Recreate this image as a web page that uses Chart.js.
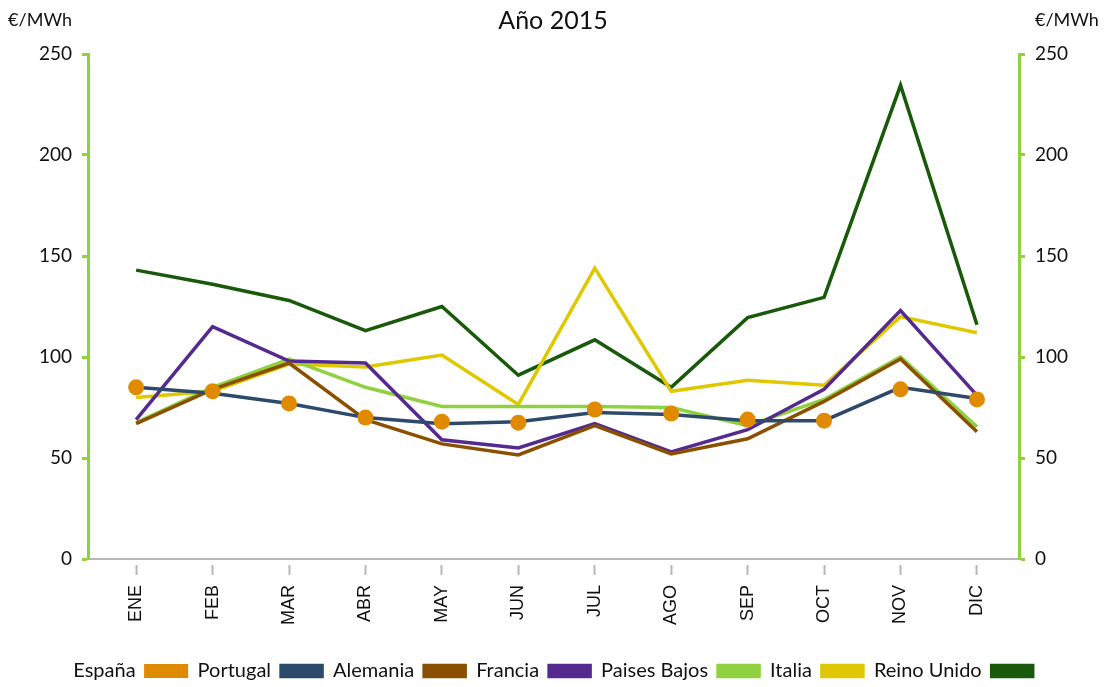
<!DOCTYPE html>
<html>
<head>
<meta charset="utf-8">
<title>Año 2015</title>
<script src="https://cdn.jsdelivr.net/npm/chart.js@4.4.1/dist/chart.umd.min.js"></script>
<style>
  html, body { margin: 0; padding: 0; background: #fff; }
  #wrap { width: 1106px; height: 687px; }
</style>
</head>
<body>
<div id="wrap"><canvas id="priceChart" width="1106" height="687"></canvas></div>
<script>
const months = ['ENE', 'FEB', 'MAR', 'ABR', 'MAY', 'JUN', 'JUL', 'AGO', 'SEP', 'OCT', 'NOV', 'DIC'];
const yTicks = [0, 50, 100, 150, 200, 250];
const unitText = '€/MWh';

const espana      = [85, 83, 77, 70, 68, 67.5, 74, 72, 69, 68.5, 84, 79];
const portugal    = [85, 82, 77, 70, 67, 68, 72.5, 71.5, 68.5, 68.5, 85, 79.5];
const alemania    = [67, 84, 97, 69, 57, 51.5, 66, 52, 59.5, 78, 99, 63];
const francia     = [69, 115, 98, 97, 59, 55, 67, 53, 64, 84, 123, 81];
const paisesBajos = [67.5, 85, 99, 85, 75.5, 75.5, 75.5, 75, 66, 79, 100, 65.5];
const italia      = [80, 83, 96.5, 95, 101, 76.5, 144, 83, 88.5, 86, 120, 112];
const reinoUnido  = [143, 136, 128, 113, 125, 91, 108.5, 85, 119.5, 129.5, 234.5, 116];

const axisGreen = '#8fd13f';

// month index -> {x, y} so the x axis can be a linear scale
function toPoints(values) {
  return values.map((v, i) => ({ x: i, y: v }));
}

function lineSet(label, values, color) {
  return {
    label: label,
    data: toPoints(values),
    borderColor: color,
    backgroundColor: color,
    borderWidth: 3.5,
    pointRadius: 0,
    pointHoverRadius: 0,
    pointBorderWidth: 0,
    tension: 0
  };
}

// draws the unit text above both value axes
const unitLabels = {
  id: 'unitLabels',
  afterDraw(chart) {
    const { ctx, scales } = chart;
    ctx.save();
    ctx.font = '18px Lato';
    ctx.fillStyle = '#111';
    ctx.textBaseline = 'middle';
    ctx.textAlign = 'right';
    ctx.fillText(unitText, scales.y.right - 16, 20);
    ctx.textAlign = 'left';
    ctx.fillText(unitText, scales.y2.left + 16, 20);
    ctx.restore();
  }
};

function valueAxis(position, width) {
  return {
    position: position,
    min: 0,
    max: 250,
    afterFit: (scale) => { scale.width = width; },
    afterBuildTicks: (scale) => { scale.ticks = yTicks.map(v => ({ value: v })); },
    border: { display: true, color: axisGreen, width: 3 },
    grid: {
      drawOnChartArea: false,
      drawTicks: true,
      tickLength: 6,
      tickWidth: 3,
      tickColor: axisGreen,
      color: axisGreen
    },
    ticks: {
      padding: 10,
      color: '#111',
      font: { family: 'Lato', size: 19 }
    }
  };
}

const ctx = document.getElementById('priceChart').getContext('2d');

const chart = new Chart(ctx, {
  type: 'line',
  data: {
    datasets: [
      {
        label: 'España',
        data: toPoints(espana),
        showLine: false,
        borderColor: '#e08a00',
        backgroundColor: '#e08a00',
        borderWidth: 3,
        pointRadius: 8,
        pointHoverRadius: 8,
        pointBorderWidth: 0,
        pointBackgroundColor: '#e08a00'
      },
      lineSet('Portugal', portugal, '#2e4a6b'),
      lineSet('Alemania', alemania, '#8a5000'),
      lineSet('Francia', francia, '#552a8f'),
      lineSet('Paises Bajos', paisesBajos, '#8fd13f'),
      lineSet('Italia', italia, '#e0c800'),
      lineSet('Reino Unido', reinoUnido, '#18590a')
    ]
  },
  options: {
    responsive: false,
    animation: false,
    events: [],
    layout: { padding: { left: 0, right: 0, top: 0, bottom: -4 } },
    scales: {
      x: {
        type: 'linear',
        min: -0.63,
        max: 11.55,
        afterFit: (scale) => { scale.height = 91; },
        border: { display: true, color: '#b8b8b8', width: 2 },
        grid: {
          drawOnChartArea: false,
          drawTicks: true,
          tickLength: 16,
          tickWidth: 2,
          tickColor: '#b8b8b8',
          tickBorderDash: [0, 5, 11, 20]
        },
        ticks: {
          stepSize: 1,
          includeBounds: false,
          autoSkip: false,
          minRotation: 90,
          maxRotation: 90,
          padding: 10,
          color: '#111',
          font: { family: 'Liberation Sans', size: 18 },
          callback: (value) => months[value] ?? ''
        }
      },
      y: valueAxis('left', 88),
      y2: valueAxis('right', 87)
    },
    plugins: {
      title: {
        display: true,
        text: 'Año 2015',
        color: '#111',
        font: { family: 'Lato', size: 25, weight: 'normal' },
        padding: { top: 6, bottom: 18 }
      },
      legend: {
        position: 'bottom',
        align: 'center',
        rtl: true,
        reverse: true,
        labels: {
          color: '#111',
          font: { family: 'Lato', size: 20 },
          boxWidth: 41,
          boxHeight: 11,
          padding: 11
        }
      },
      tooltip: { enabled: false }
    }
  },
  plugins: [unitLabels]
});
</script>
</body>
</html>
